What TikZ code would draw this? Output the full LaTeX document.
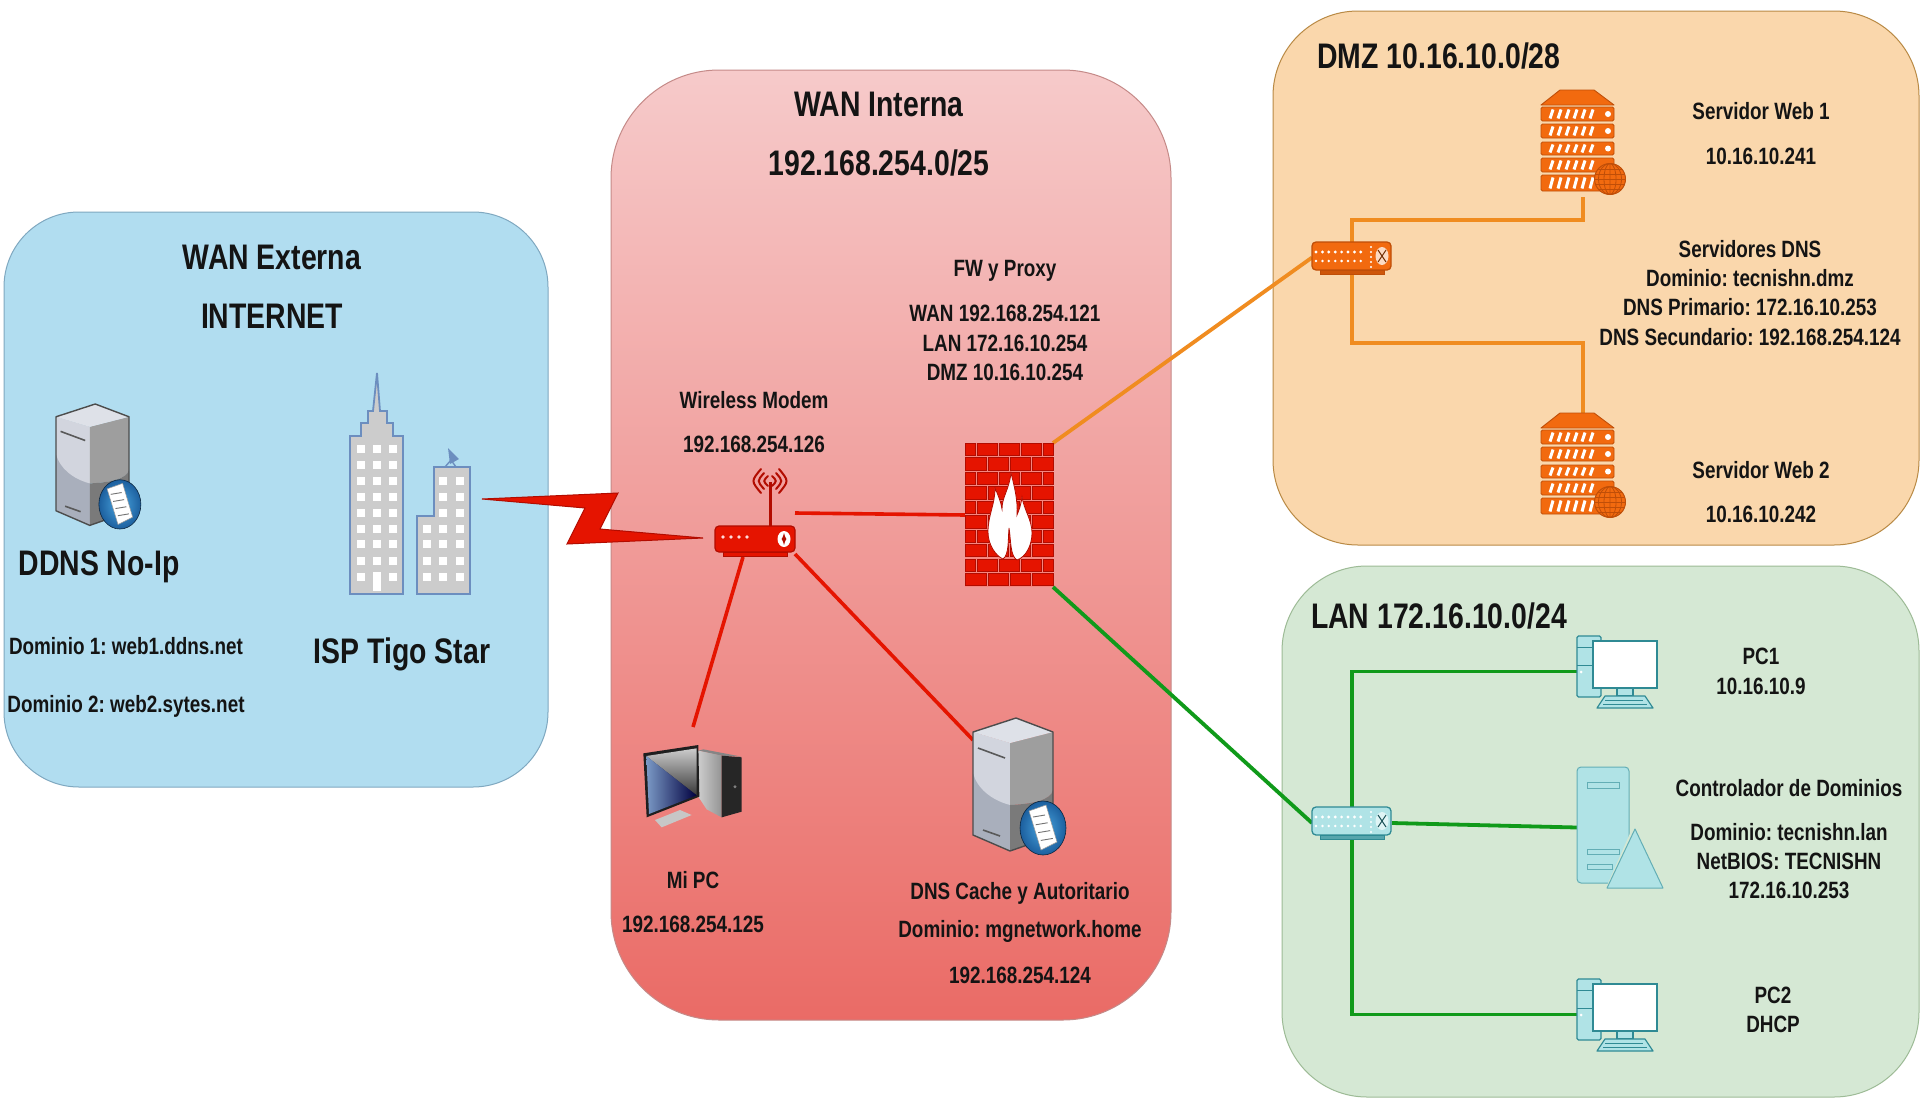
\documentclass[tikz,border=0pt]{standalone}
\usepackage{fontspec}
\setmainfont{Liberation Sans}[FakeStretch=0.8]
\usetikzlibrary{calc}
\definecolor{cBlue}{HTML}{B1DDF0}\definecolor{sBlue}{HTML}{7FA8C0}
\definecolor{rTop}{HTML}{F6CACA}\definecolor{rBot}{HTML}{EA6B66}\definecolor{sRed}{HTML}{C58A88}
\definecolor{cOr}{HTML}{FAD7AC}\definecolor{sOr}{HTML}{B98A45}
\definecolor{cGr}{HTML}{D5E8D4}\definecolor{sGr}{HTML}{9DBB96}
\definecolor{wRed}{HTML}{E51400}\definecolor{dRed}{HTML}{B20C00}
\definecolor{wOr}{HTML}{F08C20}\definecolor{wGr}{HTML}{109A1A}
\definecolor{iOr}{HTML}{F26A0F}\definecolor{dOr}{HTML}{BF4E08}
\definecolor{iTe}{HTML}{B0E3E6}\definecolor{dTe}{HTML}{2F8A94}
\definecolor{bBl}{HTML}{6C8EBF}\definecolor{discIn}{HTML}{4AA6E0}\definecolor{discOut}{HTML}{1C5F9E}
\definecolor{sLa}{HTML}{D6D9E2}\definecolor{sLb}{HTML}{A9AFBC}
\tikzset{
  panel/.style={draw,line width=1pt,inner sep=0pt,outer sep=0pt},
  iconbox/.style={inner sep=0pt,outer sep=0pt,draw=none},
  small/.style={inner sep=0pt,text=black!92,font=\frenchspacing\bfseries\fontsize{23.6}{28}\selectfont},
  big/.style={inner sep=0pt,text=black!92,font=\frenchspacing\bfseries\fontsize{35.5}{40}\selectfont},
  wireR/.style={draw=wRed,line width=3.6pt},
  wireO/.style={draw=wOr,line width=3.8pt},
  wireG/.style={draw=wGr,line width=3.8pt},
  dnssrv/.pic={
    \fill[sLb] (0,14)--(37,25)--(37,133)--(0,117)--cycle;
    \fill[sLa!90!sLb] (0,14)--(37,25)--(37,87) .. controls (18,82) and (4,70) .. (0,55)--cycle;
    \fill[black!38] (37,25)--(80,14)--(80,72) .. controls (78,82) and (60,86) .. (37,87)--cycle;
    \fill[black!52] (37,87) .. controls (60,86) and (78,82) .. (80,72)--(80,118)--(37,133)--cycle;
    \fill[sLa!80!white] (0,14)--(43,0)--(80,14)--(37,25)--cycle;
    \draw[black!70,line width=1.4pt,line join=round] (0,14)--(43,0)--(80,14)--(80,118)--(37,133)--(0,117)--cycle;
    \draw[black!65,line width=1.6pt] (5,30)--(32,40) (10,112)--(27,118);
    \shade[inner color=discIn,outer color=discOut] (70,110) ellipse [x radius=23,y radius=27];
    \draw[black!60!discOut,line width=.6pt] (70,110) ellipse [x radius=23,y radius=27];
    \fill[white,draw=black!40,line width=.5pt] (56,93)--(73,87)--(84,124)--(68,132)--cycle;
    \foreach \k in {0,1,2,3} \draw[black!55,line width=.9pt] ({60+2.6*\k},{99+7.8*\k})--({72+2.6*\k},{97+7.8*\k});
  },
  rackserver/.pic={
    \fill[iOr,draw=dOr,line width=.9pt,line join=round] (0,15)--(19,0)--(53,0)--(73,15)--cycle;
    \foreach \yt/\yb/\dt in {17/31/1,34/48/1,52/65/1,68/82/0,85/101/0}{
      \fill[iOr,draw=dOr,line width=.9pt,rounded corners=1.5pt] (0,\yt) rectangle (73,\yb);
      \foreach \k in {0,...,5} \draw[white,line width=3pt] ({12+8*\k},{\yt+2.5})--({9+8*\k},{\yb-2.5});
      \ifnum\dt=1 \fill[white] (67,{(\yt+\yb)/2}) circle (3); \fi
    }
    \fill[iOr,draw=dOr,line width=1pt] (69,89) circle (15.5);
    \begin{scope}
      \clip (69,89) circle (15.5);
      \draw[dOr,line width=.8pt] (69,74)--(69,104) (69,89) ellipse [x radius=6,y radius=15.5] (69,89) ellipse [x radius=11.5,y radius=15.5];
      \foreach \v in {-10,-5,0,5,10} \draw[dOr,line width=.8pt] (53,{89+\v})--(85,{89+\v});
    \end{scope}
  },
  pics/swt/.style n args={3}{code={
    \fill[#1,draw=#2,line width=1.3pt,rounded corners=4pt] (0,0) rectangle (79,28);
    \fill[#2!70!#1] (8,28) rectangle (72,32);
    \draw[#2] (8,28) rectangle (72,32);
    \foreach \k in {0,...,7} {\fill[white] ({4+6.4*\k},10) circle (1.6); \fill[white] ({4+6.4*\k},19) circle (1.4);}
    \foreach \v in {5,10,15,20,25} \fill[white] (59,\v) circle (1.1);
    \fill[#3] (70,14) ellipse [x radius=6.5,y radius=9];
    \draw[#2!60!black,line width=1pt] (66,8)--(74,20) (74,8)--(66,20);
  }},
  tealpc/.pic={
    \fill[iTe,draw=dTe,line width=1.2pt,rounded corners=1.5pt] (0,0) rectangle (24,61);
    \draw[dTe,line width=1pt] (0,11)--(24,11) (0,29)--(24,29);
    \fill[white] (4,36) circle (1.5);
    \fill[iTe,draw=dTe,line width=1.2pt] (40,52) rectangle (56,60);
    \fill[white,draw=dTe,line width=1.6pt] (16,5) rectangle (80,52);
    \fill[iTe,draw=dTe,line width=1.2pt,line join=round] (28,60)--(68,60)--(76,72)--(20,72)--cycle;
    \draw[dTe,line width=1pt] (28,64)--(66,64) (26,68)--(70,68);
  }
}
\begin{document}
\begin{tikzpicture}[x=1pt,y=-1pt]
\useasboundingbox (0,0) rectangle (1920,1098);
\fill[white] (0,0) rectangle (1920,1098);
% panels
\node[panel,fill=cBlue,draw=sBlue,minimum width=544pt,minimum height=575pt,rounded corners=75pt] (pExt) at (276,499.5) {};
\node[panel,top color=rTop,bottom color=rBot,draw=sRed,minimum width=560pt,minimum height=950pt,rounded corners=108pt] (pInt) at (891,545) {};
\node[panel,fill=cOr,draw=sOr,minimum width=646pt,minimum height=534pt,rounded corners=85pt] (pDmz) at (1596,278) {};
\node[panel,fill=cGr,draw=sGr,minimum width=637pt,minimum height=531pt,rounded corners=85pt] (pLan) at (1600.5,831.5) {};
% icon boxes
\node[iconbox,minimum width=73pt,minimum height=122pt] (ddns) at (92.5,465) {};
\node[iconbox,minimum width=120pt,minimum height=222pt] (isp) at (410,483) {};
\node[iconbox,minimum width=80pt,minimum height=86pt] (rt) at (755,513) {};
\node[iconbox,minimum width=88pt,minimum height=144pt] (fw) at (1009,515) {};
\node[iconbox,minimum width=100pt,minimum height=83pt] (pcm) at (693,786.5) {};
\node[iconbox,minimum width=80pt,minimum height=134pt] (dns) at (1013,785) {};
\node[iconbox,minimum width=80pt,minimum height=31pt] (sw1) at (1352,257.5) {};
\node[iconbox,minimum width=80pt,minimum height=32pt] (sw2) at (1352,823) {};
\node[iconbox,minimum width=84pt,minimum height=107pt] (srv1) at (1583,143.5) {};
\node[iconbox,minimum width=84pt,minimum height=107pt] (srv2) at (1583,466.5) {};
\node[iconbox,minimum width=80pt,minimum height=71pt] (pc1) at (1617,671.5) {};
\node[iconbox,minimum width=80pt,minimum height=71pt] (pc2) at (1617,1014.5) {};
\node[iconbox,minimum width=86pt,minimum height=121pt] (dc) at (1620,827.5) {};
\coordinate (rtPc) at ($(rt.south west)+(28,1)$);
\coordinate (rtDns) at ($(rt.south east)+(0,-2)$);
\coordinate (dnsIn) at ($(dns.north west)+(0,22)$);
\coordinate (pcIn) at ($(pcm.north)+(0,-18)$);
% connectors
\draw[wireR] (rt.east) -- (fw.west);
\draw[wireR] (rtPc) -- (pcIn);
\draw[wireR] (rtDns) -- (dnsIn);
\draw[wireO] (fw.north east) -- (sw1.west);
\draw[wireG] (fw.south east) -- (sw2.west);
\draw[wireO,line join=miter] (sw1.north) -- ++(0,-22) -| (srv1.south);
\draw[wireO,line join=miter] (sw1.south) -- ++(0,70) -| (srv2.north);
\draw[wireG,line join=miter] (sw2.north) |- (pc1.west);
\draw[wireG,line join=miter] (sw2.south) |- (pc2.west);
\draw[wireG] (sw2.east) -- (dc.west);
% lightning
\fill[wRed,draw=dRed,line width=1pt,line join=miter] (482,499)--(618,493)--(600,529)--(703,538)--(567,544)--(585,508)--cycle;
% server icons
\pic[scale=.9125] at (56,404) {dnssrv};
\pic at (973,718) {dnssrv};
% buildings
\draw[fill=black!20,draw=bBl,line width=1.8pt,line join=miter] (350,594)--(350,436)--(361,436)--(361,423)--(368,423)--(368,411)--(373,411)--(377,373)--(380,411)--(387,411)--(387,423)--(393,423)--(393,436)--(403,436)--(403,594)--cycle;
\draw[fill=black!20,draw=bBl,line width=1.8pt,line join=miter] (417,594)--(417,516)--(434,516)--(434,467)--(470,467)--(470,594)--cycle;
\foreach \yy in {449,465,481,497,513,529,544,561,577} {\foreach \xx in {361,377,393} \fill[white] (\xx-4,\yy-4) rectangle (\xx+4,\yy+4);}
\fill[white] (373,572) rectangle (381,591);
\foreach \yy in {481,497,513,529,544,561,577} {\foreach \xx in {443,460} \fill[white] (\xx-4,\yy-4) rectangle (\xx+4,\yy+4);}
\foreach \yy in {529,544,561,577} \fill[white] (427-4,\yy-4) rectangle (427+4,\yy+4);
\fill[bBl] (448,448)--(459,459)--(450,464)--cycle;
\draw[bBl,line width=1.4pt] (451,460)--(445,467) (451,460)--(456,467);
% router
\draw[dRed,line width=3pt] (770,526)--(770,482);
\draw[dRed,line width=2pt,line cap=round]
  (768,476) .. controls (763,481) .. (768,486)
  (772,476) .. controls (777,481) .. (772,486)
  (764,473) .. controls (757,481) .. (764,489)
  (776,473) .. controls (783,481) .. (776,489)
  (761,469) .. controls (751,481) .. (761,493)
  (779,469) .. controls (789,481) .. (779,493);
\fill[wRed,draw=dRed,line width=1pt] (723,552) rectangle (787,556);
\fill[wRed,draw=dRed,line width=1.2pt,rounded corners=4pt] (715,526) rectangle (795,552);
\foreach \xx in {723,731,739,747} \fill[white!85!red] (\xx,537) circle (1.8);
\fill[white] (784,539) ellipse [x radius=6.5,y radius=8];
\draw[dRed,line width=1.2pt,<->,>=latex] (784,533)--(784,545);
% firewall
\fill[red!30!wRed!50!white] (965,443) rectangle (1053,587);
\begin{scope}[shift={(960,435)},x=0.33333pt,y=-0.33333pt]
\foreach \r in {0,2,4,6,8} \foreach \a/\b in {15/47,52/112,118/178,185/245,250/280}
  \fill[wRed,draw=dRed,line width=.6pt] (\a,{25+43.3*\r}) rectangle (\b,{62+43.3*\r});
\foreach \r in {1,3,5,7,9} \foreach \a/\b in {15/78,85/145,152/212,218/280}
  \fill[wRed,draw=dRed,line width=.6pt] (\a,{25+43.3*\r}) rectangle (\b,{62+43.3*\r});
\end{scope}
\fill[white,draw=dRed,line width=.8pt] (995,488) .. controls (995,505) and (988,515) .. (988,532) .. controls (988,545) and (996,556) .. (1003,559) .. controls (1009,555) and (1008,540) .. (1009,528) .. controls (1011,540) and (1010,556) .. (1017,560) .. controls (1026,557) and (1032,545) .. (1032,533) .. controls (1032,520) and (1024,510) .. (1022,497) .. controls (1021,505) and (1019,510) .. (1017,515) .. controls (1018,500) and (1014,485) .. (1011,473) .. controls (1009,490) and (1002,497) .. (1002,509) .. controls (1001,502) and (998,495) .. (995,488) -- cycle;
% desktop PC
\begin{scope}[shift={(640,740)},x=0.33333pt,y=-0.33333pt]
\fill[black!48] (175,32)--(190,28)--(305,50)--(245,47)--cycle;
\shade[left color=black!20,right color=black!42] (175,32)--(245,47)--(245,232)--(200,208)--(175,170)--cycle;
\fill[black!85] (245,47)--(305,52)--(305,215)--(245,232)--cycle;
\fill[black!50] (285,140) circle (5);
\fill[black!22] (45,240)--(120,210)--(155,225)--(65,262)--cycle;
\fill[black!88] (10,40)--(175,15)--(178,170)--(20,232)--cycle;
\shade[top color=black!20,bottom color=black!78] (19,48)--(170,25)--(170,166)--cycle;
\shade[left color=bBl!90!white,right color=blue!25!black] (19,48)--(170,166)--(27,222)--cycle;
\end{scope}
% rack servers, switches
\pic at (1541,90) {rackserver};
\pic at (1541,413) {rackserver};
\pic at (1312,242) {swt={iOr}{dOr}{white!75!iOr}};
\pic at (1312,807) {swt={iTe}{dTe}{white!60!iTe}};
% PCs
\pic at (1577,636) {tealpc};
\pic at (1577,979) {tealpc};
% domain controller
\fill[iTe,draw=dTe!60!iTe,line width=1pt,rounded corners=4pt] (1577,883)--(1577,767)--(1629,767)--(1629,840)--(1629,883)--cycle;
\fill[cGr] (1611,883) rectangle (1632,888);
\fill[cGr] (1635,822)--(1605,890)--(1630,892)--(1640,830)--cycle;
\foreach \a/\b/\c/\d in {1587/782/1619/788,1587/849/1619/854,1587/864/1612/869}
  \draw[dTe!60!iTe,line width=1pt] (\a,\b) rectangle (\c,\d);
\fill[iTe,draw=dTe!60!iTe,line width=1pt,line join=round] (1635,829)--(1663,888)--(1607,888)--cycle;
% texts
\node[big] (t1) at (272,257) {WAN Externa};
\node[big] (t2) at (272,316) {INTERNET};
\node[big] (t3) at (99,567) {DDNS No-Ip};
\node[small] (t4) at (126,646) {Dominio 1: web1.ddns.net};
\node[small] (t5) at (126,706) {Dominio 2: web2.sytes.net};
\node[big] (t6) at (402,654) {ISP Tigo Star};
\node[big] (t7) at (879,104) {WAN Interna};
\node[big] (t8) at (879,163) {192.168.254.0/25};
\node[small] (t9) at (1005,271) {FW y Proxy};
\node[small] (t10) at (1005,313) {WAN 192.168.254.121};
\node[small] (t11) at (1005,343) {LAN 172.16.10.254};
\node[small] (t12) at (1005,372) {DMZ 10.16.10.254};
\node[small] (t13) at (754,400) {Wireless Modem};
\node[small] (t14) at (754,444) {192.168.254.126};
\node[small] (t15) at (693,880) {Mi PC};
\node[small] (t16) at (693,924) {192.168.254.125};
\node[small] (t17) at (1020,893) {DNS Cache y Autoritario};
\node[small] (t18) at (1020,931) {Dominio: mgnetwork.home};
\node[small] (t19) at (1020,975) {192.168.254.124};
\node[big] (t20) at (1439,55.5) {DMZ 10.16.10.0/28};
\node[small] (t21) at (1761,111.5) {Servidor Web 1};
\node[small] (t22) at (1761,156.5) {10.16.10.241};
\node[small] (t23) at (1750,249) {Servidores DNS};
\node[small] (t24) at (1750,278) {Dominio: tecnishn.dmz};
\node[small] (t25) at (1750,307) {DNS Primario: 172.16.10.253};
\node[small] (t26) at (1750,337) {DNS Secundario: 192.168.254.124};
\node[small] (t27) at (1761,470) {Servidor Web 2};
\node[small] (t28) at (1761,514) {10.16.10.242};
\node[big] (t29) at (1439,616) {LAN 172.16.10.0/24};
\node[small] (t30) at (1761,656) {PC1};
\node[small] (t31) at (1761,686) {10.16.10.9};
\node[small] (t32) at (1789,788.5) {Controlador de Dominios};
\node[small] (t33) at (1789,832.5) {Dominio: tecnishn.lan};
\node[small] (t34) at (1789,861.5) {NetBIOS: TECNISHN};
\node[small] (t35) at (1789,890.5) {172.16.10.253};
\node[small] (t36) at (1773,995.5) {PC2};
\node[small] (t37) at (1773,1024.5) {DHCP};
\end{tikzpicture}
\end{document}
